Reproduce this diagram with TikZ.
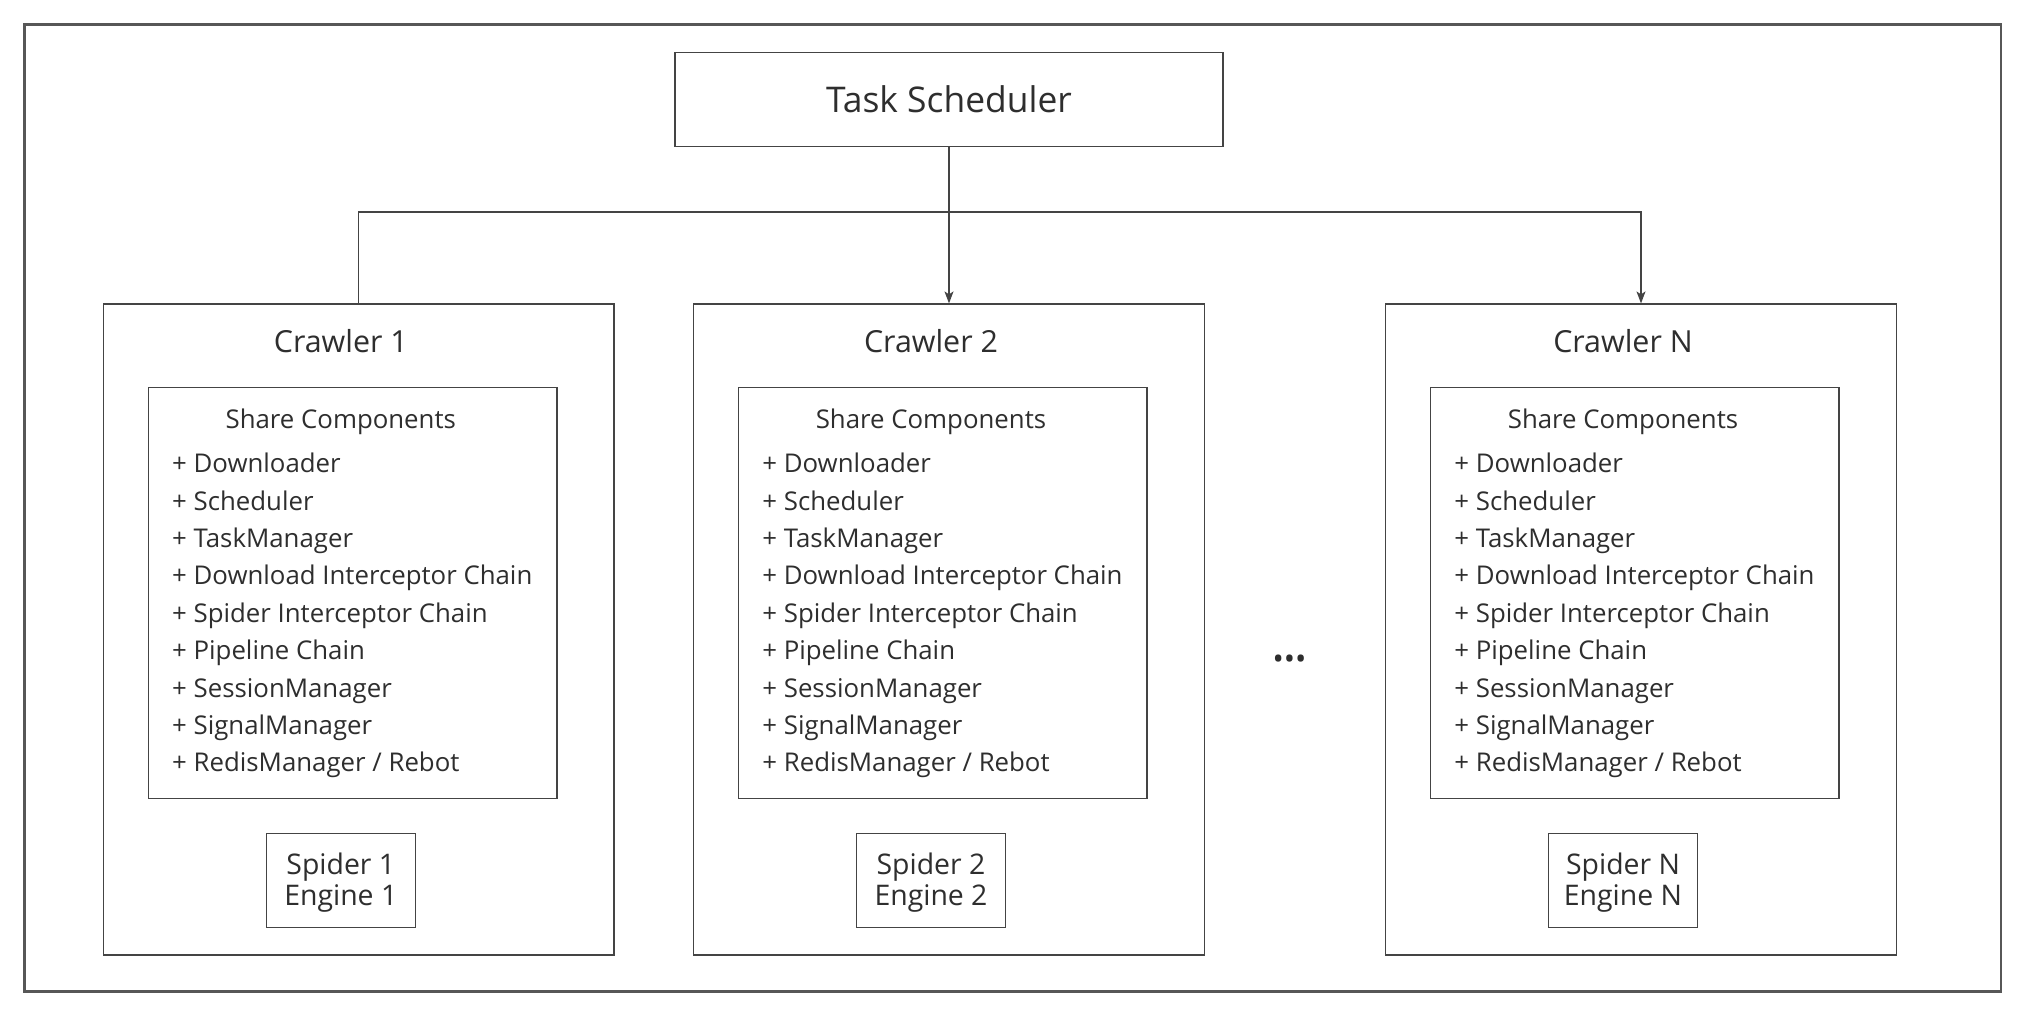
\documentclass[tikz,border=0pt]{standalone}
\usepackage{fontspec}
\setmainfont{Open Sans}
\usetikzlibrary{arrows.meta,positioning}
\definecolor{ink}{HTML}{2E2E2E}
\definecolor{edge}{HTML}{444444}
\begin{document}
\begin{tikzpicture}[x=0.5pt,y=-0.5pt,
  box/.style={draw=edge,line width=0.7pt,fill=white,inner sep=0pt,text=ink},
  crawler/.style={box,minimum width=255.25pt,minimum height=325.5pt},
  sharebox/.style={box,minimum width=204.25pt,minimum height=205.5pt},
  enginebox/.style={box,minimum width=74.5pt,minimum height=47pt},
  label/.style={text=ink,inner sep=0pt,anchor=base},
  title/.style={label,font=\fontsize{15.2}{18}\selectfont},
  small/.style={label,font=\fontsize{12.9}{15}\selectfont},
  enginetext/.style={label,font=\fontsize{14.2}{16}\selectfont},
  item/.style={small,anchor=base west},
  link/.style={draw=edge,line width=0.6pt},
  tip/.style={-{Stealth[length=6pt,width=4.5pt,inset=1.5pt]}}]
\useasboundingbox (0,0) rectangle (2026,1016);
\fill[white] (0,0) rectangle (2026,1016);
% outer frame
\draw[draw=edge!90,line width=1.1pt] (24.5,24.5) rectangle (2001,991.5);

% scheduler
\node[box,minimum width=274pt,minimum height=47pt] (ts) at (949,99.7) {};
\node[label,font=\fontsize{17.7}{20}\selectfont] (ts-t) at (949,112.3) {Task Scheduler};

% crawlers, each with its shared components and its spider engine
\foreach \id/\cx/\n in {c1/358.8/1, c2/949/2, cN/1641/N}{
  \node[crawler] (\id) at (\cx,629.6) {};
  \node[title] (\id-t) at (\cx-18,352.7) {Crawler \n};
  \node[sharebox] (\id-s) at (\cx-6.25,593) {};
  \node[small] (\id-h) at (\cx-18,429) {Share Components};
  \foreach \k/\txt in {0/{Downloader},1/{Scheduler},2/{TaskManager},
      3/{Download Interceptor Chain},4/{Spider Interceptor Chain},5/{Pipeline Chain},
      6/{SessionManager},7/{SignalManager},8/{RedisManager / Rebot}}{
    \node[item] (\id-i\k) at (\cx-187,472.7+37.4*\k) {+ \txt};
  }
  \node[enginebox] (\id-e) at (\cx-18,880.5) {};
  \node[enginetext] (\id-e1) at (\cx-18,874) {Spider \n};
  \node[enginetext] (\id-e2) at (\cx-18,905) {Engine \n};
}

% ellipsis between crawler 2 and crawler N
\node[text=ink,inner sep=0pt,font=\fontsize{15}{16}\selectfont] (dots) at (1289.5,662) {•••};

% connectors
\coordinate (j) at (949,212);
\draw[link,tip] (ts) -- (c2);
\draw[link,tip] (c1.north) |- (j) -| (cN.north);
\end{tikzpicture}
\end{document}
